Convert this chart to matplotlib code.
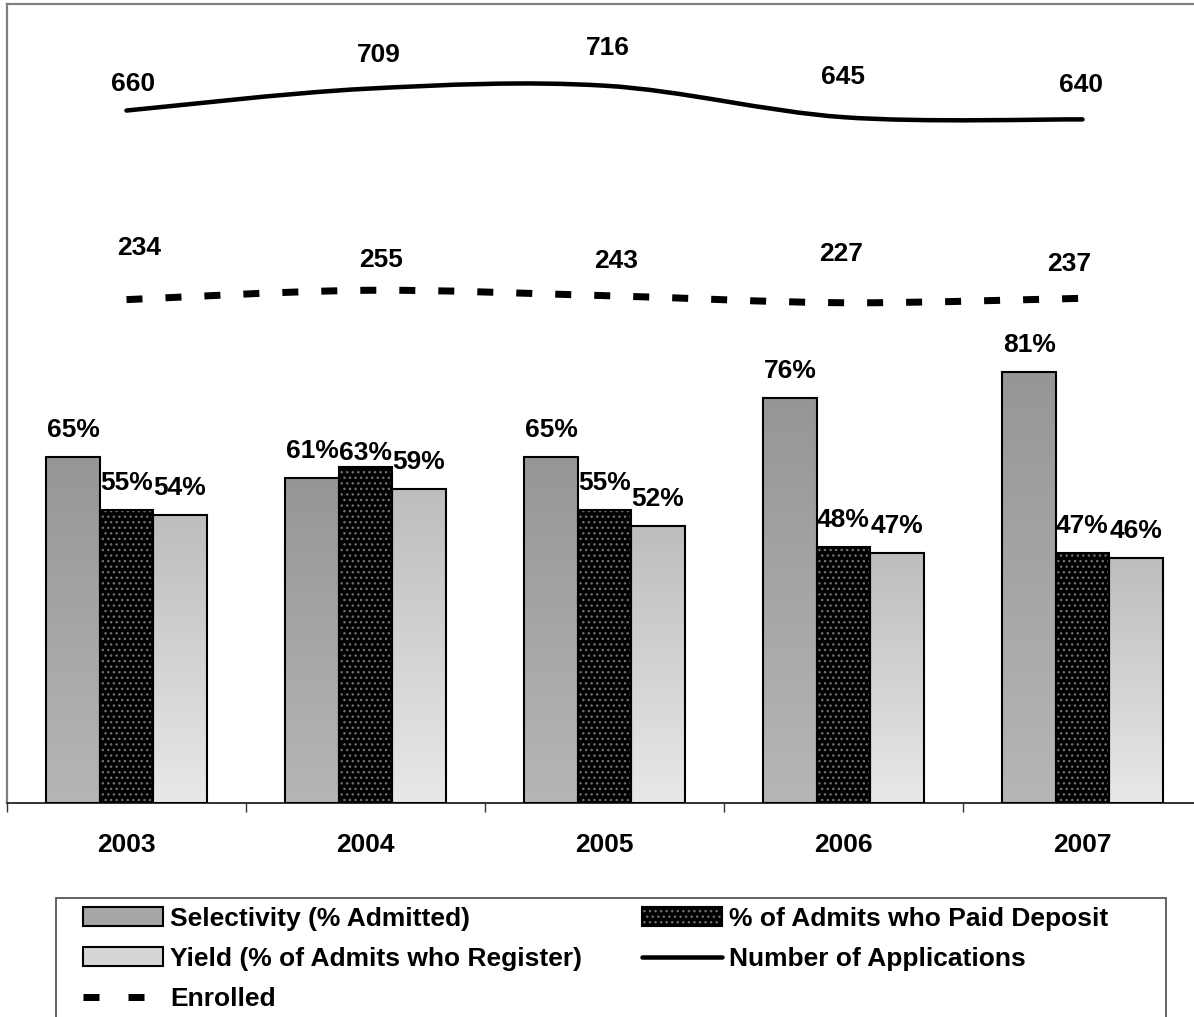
import numpy as np
import matplotlib
matplotlib.use("Agg")
import matplotlib.pyplot as plt
from matplotlib.path import Path
from matplotlib.patches import PathPatch, Rectangle, Patch
from matplotlib.lines import Line2D
from matplotlib.legend_handler import HandlerTuple
from matplotlib.colors import LinearSegmentedColormap

# --- data ---
years = ["2003", "2004", "2005", "2006", "2007"]
selectivity = [65, 61, 65, 76, 81]
paid_deposit = [55, 63, 55, 48, 47]
yield_pct = [54, 59, 52, 47, 46]
applications = [660, 709, 716, 645, 640]
enrolled = [234, 255, 243, 227, 237]

labels = ["Selectivity (% Admitted)", "% of Admits who Paid Deposit",
          "Yield (% of Admits who Register)", "Number of Applications", "Enrolled"]

W, H, DPI = 1194, 1017, 100

plt.rcParams['font.family'] = ['Liberation Sans', 'DejaVu Sans']
plt.rcParams['font.weight'] = 'bold'
plt.rcParams['lines.scale_dashes'] = False


def px(v):
    # pixels -> points
    return v * 72.0 / DPI


def smooth_path(xs, ys):
    # catmull-rom style smoothing, like the spreadsheet "smoothed line"
    pts = np.column_stack([xs, ys]).astype(float)
    ext = np.vstack([pts[0], pts, pts[-1]])
    verts = [pts[0]]
    codes = [Path.MOVETO]
    for i in range(len(pts) - 1):
        p0, p1, p2, p3 = ext[i], ext[i + 1], ext[i + 2], ext[i + 3]
        verts += [p1 + (p2 - p0) / 6.0, p2 - (p3 - p1) / 6.0, p2]
        codes += [Path.CURVE4] * 3
    return Path(verts, codes)


fig = plt.figure(figsize=(W / DPI, H / DPI), dpi=DPI)
fig.patch.set_facecolor('white')
ax = fig.add_axes([7 / W, (H - 803) / H, 1195 / W, 799 / H])

x = np.arange(len(years))
bw = 0.2234
BAR_LW = 1.5
LABEL_FS = 19

# selectivity and yield: gradient bars
grad = np.linspace(0, 1, 256).reshape(-1, 1)
for vals, off, (ctop, cbot) in [(selectivity, -bw, ('#969696', '#b6b6b6')),
                                (yield_pct, bw, ('#bdbdbd', '#e8e8e8'))]:
    bars = ax.bar(x + off, vals, bw, color='none', edgecolor='black',
                  linewidth=BAR_LW, zorder=3)
    cmap = LinearSegmentedColormap.from_list('g', [ctop, cbot])
    for b in bars:
        im = ax.imshow(grad, cmap=cmap, aspect='auto', origin='upper',
                       extent=[b.get_x(), b.get_x() + b.get_width(), 0, b.get_height()],
                       zorder=2)
        im.set_clip_path(b)

# paid deposit: black with grey dots
ax.bar(x, paid_deposit, bw, color='black', edgecolor='#707070', hatch='...',
       linewidth=0, zorder=2)
ax.bar(x, paid_deposit, bw, fill=False, edgecolor='black', linewidth=BAR_LW, zorder=3)

ax.set_xlim(-0.5, 4.5)
ax.set_ylim(0, 150)

# bar value labels
for vals, off in [(selectivity, -bw), (paid_deposit, 0), (yield_pct, bw)]:
    for xi, v in zip(x, vals):
        dy = 27
        if off == 0 and xi == 1:
            dy = 14
        ax.annotate(f"{v}%", (xi + off, v), xytext=(0, px(dy)), textcoords='offset points',
                    ha='center', va='center', fontsize=LABEL_FS, fontweight='bold', zorder=5)

# axes styling
ax.set_yticks([])
ax.set_xticks(np.arange(-0.5, 5, 1))
ax.set_xticklabels([])
ax.tick_params(axis='x', which='major', length=px(9), width=1, color='#333333', direction='out')
ax.set_xticks(x, minor=True)
ax.set_xticklabels(years, minor=True, fontsize=19, fontweight='bold')
ax.tick_params(axis='x', which='minor', length=0, pad=px(30))
ax.spines['right'].set_visible(False)
for s in ('left', 'top'):
    ax.spines[s].set_color('#808080')
    ax.spines[s].set_linewidth(1.6)
ax.spines['bottom'].set_color('#333333')
ax.spines['bottom'].set_linewidth(1.4)

# secondary axis for counts
ax2 = ax.twinx()
ax2.set_ylim(-900, 900)
ax2.set_yticks([])
for s in ax2.spines.values():
    s.set_visible(False)

apps_patch = PathPatch(smooth_path(x, applications), fill=False, edgecolor='black',
                       linewidth=px(4.5), capstyle='round', joinstyle='round', zorder=4)
ax2.add_patch(apps_patch)
dash = (0, (px(16), px(23)))
enr_patch = PathPatch(smooth_path(x, enrolled), fill=False, edgecolor='black',
                      linewidth=px(7), linestyle=dash, capstyle='butt', zorder=4)
ax2.add_patch(enr_patch)

# line labels (manually nudged, as in the source)
app_dx = [7, 13, 3, 0, -1]
app_dy = [20, 27, 31, 33, 27]
enr_dx = [13, 16, 12, -2, -13]
enr_dy = [45, 23, 28, 42, 27]
for vals, dxs, dys in [(applications, app_dx, app_dy), (enrolled, enr_dx, enr_dy)]:
    for xi, v, ddx, ddy in zip(x, vals, dxs, dys):
        ax2.annotate(str(v), (xi, v), xytext=(px(ddx), px(ddy)), textcoords='offset points',
                     ha='center', va='baseline', fontsize=LABEL_FS, fontweight='bold', zorder=5)

# legend
sel_h = Patch(facecolor='#a6a6a6', edgecolor='black', linewidth=BAR_LW)
yld_h = Patch(facecolor='#d6d6d6', edgecolor='black', linewidth=BAR_LW)
paid_h = (Patch(facecolor='black', edgecolor='#707070', hatch='...', linewidth=0),
          Patch(fill=False, edgecolor='black', linewidth=BAR_LW))
apps_h = Line2D([], [], color='black', linewidth=px(4.5), solid_capstyle='round')
enr_h = Line2D([], [], color='black', linewidth=px(7),
               linestyle=(0, (px(16), px(29))), dash_capstyle='butt')

handles = [sel_h, yld_h, enr_h, paid_h, apps_h]
leg_labels = [labels[0], labels[2], labels[4], labels[1], labels[3]]
fig.legend(handles, leg_labels, loc='upper left',
           bbox_to_anchor=(83 / W, 0, (1108 - 83) / W, 1 - 907 / H),
           mode='expand', ncol=2, frameon=False, borderpad=0, borderaxespad=0,
           prop={'size': 19, 'weight': 'bold'}, handlelength=3.03, handleheight=0.72,
           handletextpad=0.27, labelspacing=0.61,
           handler_map={tuple: HandlerTuple(ndivide=1, pad=0)})
fig.add_artist(Rectangle((56 / W, -0.05), 1110 / W, (H - 898) / H + 0.05,
                         transform=fig.transFigure, fill=False, edgecolor='#555555',
                         linewidth=1.3))

fig.savefig('out.png', dpi=DPI)
plt.close(fig)
